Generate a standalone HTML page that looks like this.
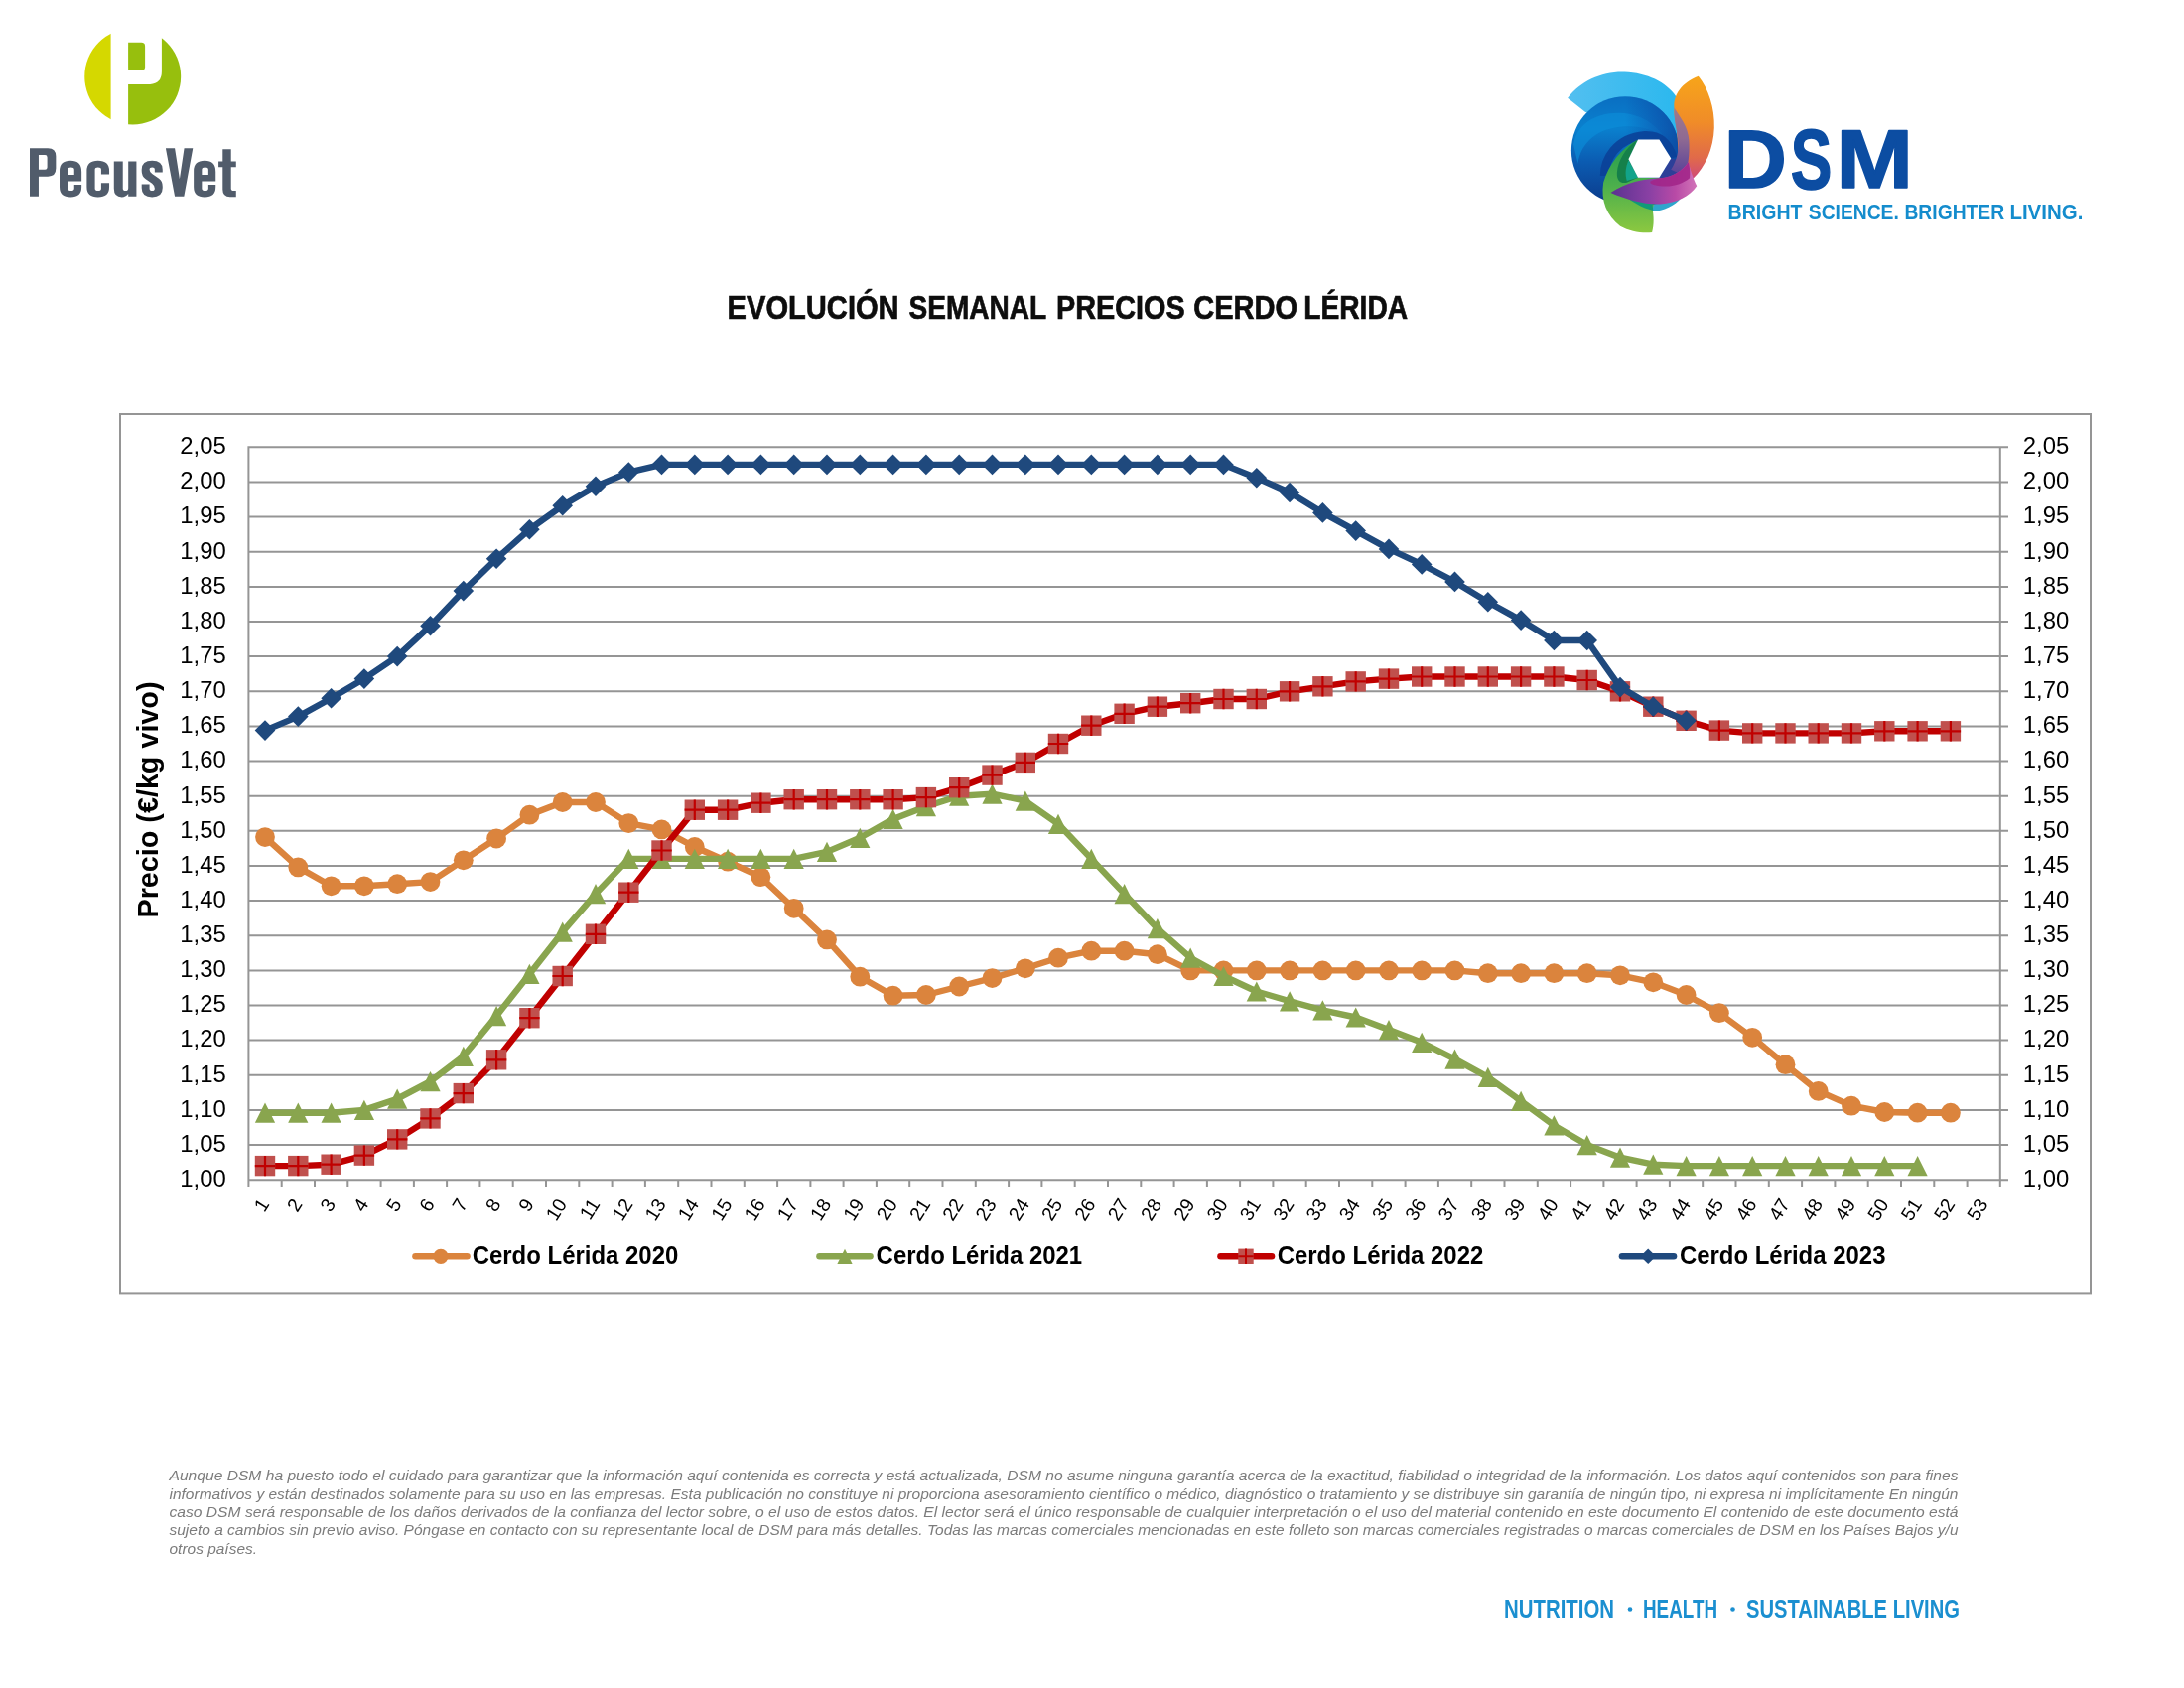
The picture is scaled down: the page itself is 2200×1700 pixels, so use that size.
<!DOCTYPE html>
<html><head><meta charset="utf-8"><title>Evolución semanal precios cerdo Lérida</title>
<style>html,body{margin:0;padding:0;background:#fff}body{width:2200px;height:1700px;overflow:hidden}svg{display:block;will-change:transform}text{font-family:"Liberation Sans",sans-serif}</style></head><body>
<svg width="2200" height="1700" viewBox="0 0 2200 1700">
<rect width="2200" height="1700" fill="#fff"/>
<g id="pecus">
<clipPath id="pc"><circle cx="133.7" cy="77.1" r="48.45"/></clipPath>
<g clip-path="url(#pc)">
<rect x="80" y="20" width="31.6" height="115" fill="#d5d800"/>
<path d="M129.1 84.9H151.2Q162.9 84.3 162.9 72V20H190V135H129.1Z" fill="#97bf0d"/>
<path d="M129.1 42.7H142.4Q146.1 42.7 146.1 46.4V67.2Q146.1 70.9 142.4 70.9H129.1Z" fill="#97bf0d"/>
</g>
<g transform="translate(20 135) scale(0.10531)" fill="#515c6b" fill-rule="evenodd">
<path d="M95 135H268Q345 135 345 212V328Q345 405 268 405H180V595H95ZM180 200V340H240Q262 340 262 318V222Q262 200 240 200Z"/>
<path d="M485 255Q590 255 590 360V452H458V520Q458 542 489 542Q520 542 520 520V485H590V505Q590 602 485 602Q380 602 380 505V352Q380 255 485 255ZM458 390V340Q458 318 489 318Q520 318 520 340V390Z"/>
<path d="M747 255Q855 255 855 352V385H778V340Q778 318 748 318Q718 318 718 340V520Q718 542 748 542Q778 542 778 520V468H855V505Q855 602 747 602Q640 602 640 505V352Q640 255 747 255Z"/>
<path d="M900 262H985V520Q985 542 1010 542Q1037 542 1037 515V262H1115V595H1037V570Q1012 602 975 602Q900 602 900 520Z"/>
<path d="M1265 255Q1365 255 1365 340V365H1290V340Q1290 318 1265 318Q1240 318 1240 340Q1240 362 1265 380L1330 425Q1365 450 1365 500V515Q1365 602 1265 602Q1165 602 1165 515V480H1240V520Q1240 542 1265 542Q1290 542 1290 520Q1290 492 1265 472L1200 427Q1165 402 1165 352V340Q1165 255 1265 255Z"/>
<path d="M1395 135H1482L1528 430L1572 135H1655L1570 595H1482Z"/>
<path transform="translate(1283 0)" d="M485 255Q590 255 590 360V452H458V520Q458 542 489 542Q520 542 520 520V485H590V505Q590 602 485 602Q380 602 380 505V352Q380 255 485 255ZM458 390V340Q458 318 489 318Q520 318 520 340V390Z"/>
<path d="M1940 145H2020V262H2068V315H2020V520Q2020 542 2045 542H2068V600H2010Q1940 600 1940 530V315H1900V262H1940Z"/>
</g>

</g>

<g id="dsm">
<defs>
<linearGradient id="gB" x1="0" y1="0" x2="0" y2="1"><stop offset="0" stop-color="#0a6fc2"/><stop offset=".3" stop-color="#0a80ce"/><stop offset=".6" stop-color="#0b5cb2"/><stop offset="1" stop-color="#0c3a8a"/></linearGradient>
<linearGradient id="gO" x1="0" y1="0" x2="0" y2="1"><stop offset="0" stop-color="#f7a51a"/><stop offset=".45" stop-color="#f08c28"/><stop offset=".8" stop-color="#e06a4a"/><stop offset="1" stop-color="#d04a78"/></linearGradient>
<linearGradient id="gG" x1="0" y1="0" x2="0" y2="1"><stop offset="0" stop-color="#1f9a50"/><stop offset=".5" stop-color="#4db04c"/><stop offset="1" stop-color="#8cc840"/></linearGradient>
<linearGradient id="gP" x1="0" y1="0" x2="1" y2="0"><stop offset="0" stop-color="#5a3290"/><stop offset=".45" stop-color="#8a40a4"/><stop offset=".75" stop-color="#b84aa6"/><stop offset="1" stop-color="#d274b8"/></linearGradient>
<linearGradient id="gL" x1="0" y1="0" x2="1" y2="0"><stop offset="0" stop-color="#52bff0"/><stop offset="1" stop-color="#2bb8ee"/></linearGradient>
<linearGradient id="gM" x1="0" y1="0" x2="0" y2="1"><stop offset="0" stop-color="#a07a8c"/><stop offset=".45" stop-color="#8f6a92"/><stop offset="1" stop-color="#56409a"/></linearGradient>
<linearGradient id="gBr" x1="0" y1="0" x2="1" y2="0"><stop offset=".5" stop-color="#0c4aa6" stop-opacity="0"/><stop offset=".8" stop-color="#0c4aa6" stop-opacity=".55"/><stop offset="1" stop-color="#0c459e" stop-opacity=".8"/></linearGradient>
</defs>
<g transform="translate(1560 60) scale(0.11255)">
<!-- light blue crescent -->
<path d="M170 345C290 190 480 105 680 112C880 120 1050 200 1140 330L1165 720L700 520L330 470Z" fill="url(#gL)"/>
<!-- cyan bottom sliver -->
<path d="M880 1230L1190 1230C1130 1310 1030 1352 925 1358Z" fill="#2ea6cc"/>
<!-- main blue disk -->
<circle cx="685" cy="812" r="482" fill="url(#gB)"/>
<path d="M222 760C250 580 420 470 640 478C830 486 960 580 1040 700C930 620 800 590 660 600C450 615 290 730 262 930Z" fill="#0b90da" opacity=".6"/>
<circle cx="685" cy="812" r="482" fill="url(#gBr)"/>
<path d="M500 1040C500 900 600 700 860 680C980 676 1070 740 1112 880" fill="none" stroke="#0a3f96" stroke-width="80" stroke-linecap="butt" opacity=".85"/>
<!-- green petal -->
<path d="M800 715C650 790 535 940 490 1100C465 1260 520 1400 640 1490C730 1540 840 1555 925 1545C945 1480 940 1400 930 1340L1000 1060L800 1055L715 890Z" fill="url(#gG)"/>
<path d="M790 722C690 790 620 900 612 1010C608 1080 640 1110 700 1100L800 1055L715 890Z" fill="#15804a"/>
<path d="M715 900L800 1055L700 1085C680 1020 690 960 715 900Z" fill="#12a38a"/>
<path d="M660 1200C740 1270 840 1330 935 1350L930 1300L1000 1280C860 1280 760 1250 660 1200Z" fill="#109a78"/>
<path d="M1095 885L1170 900L1210 1062L990 1058Z" fill="#2d3f98"/>
<!-- orange petal -->
<path d="M1340 148C1430 260 1488 430 1482 610C1476 800 1400 960 1295 1062L1170 1040C1165 900 1155 700 1142 600C1130 520 1120 470 1124 430C1112 320 1190 205 1340 148Z" fill="url(#gO)"/>
<path d="M1124 430C1180 520 1248 600 1256 720C1264 850 1248 960 1215 1040L1095 985C1150 900 1172 800 1155 700C1142 600 1118 520 1124 430Z" fill="url(#gM)"/>
<!-- purple/magenta petal -->
<path d="M555 1190C690 1100 850 1068 1000 1060C1100 1052 1200 995 1252 915C1268 990 1298 1075 1326 1130C1262 1222 1150 1282 1000 1292C850 1297 700 1252 555 1190Z" fill="url(#gP)"/>
<path d="M1000 1060C1100 1052 1200 995 1252 915C1262 960 1268 1010 1262 1060C1180 1130 1060 1150 940 1120C900 1105 880 1085 1000 1060Z" fill="#a2268a" opacity=".9"/>
<!-- hexagon hole -->
<path d="M800 715H990L1095 885L990 1055H800L715 890Z" fill="#fff"/>
</g>
<text fill="#0c4da2" transform="matrix(1.0407 0 0 0.9885 1736.63 188.83)" font-size="84" font-weight="bold" font-style="normal" stroke="#0c4da2" stroke-width="1.6" stroke-linejoin="round" >D</text><text fill="#0c4da2" transform="matrix(0.7429 0 0 1.0041 1803.71 189.53)" font-size="84" font-weight="bold" font-style="normal" stroke="#0c4da2" stroke-width="1.6" stroke-linejoin="round" >S</text><text fill="#0c4da2" transform="matrix(1.1078 0 0 0.9885 1849.40 188.83)" font-size="84" font-weight="bold" font-style="normal" stroke="#0c4da2" stroke-width="1.6" stroke-linejoin="round" >M</text>
<text transform="matrix(0.8698 0 0 1 1740.50 220.6)" font-size="22.5" font-weight="bold" fill="#148ccd">BRIGHT</text><text transform="matrix(0.8574 0 0 1 1821.77 220.6)" font-size="22.5" font-weight="bold" fill="#148ccd">SCIENCE.</text><text transform="matrix(0.8580 0 0 1 1918.41 220.6)" font-size="22.5" font-weight="bold" fill="#148ccd">BRIGHTER</text><text transform="matrix(0.9096 0 0 1 2024.44 220.6)" font-size="22.5" font-weight="bold" fill="#148ccd">LIVING.</text>
</g>

<text transform="matrix(0.8564 0 0 1 732.59 320.9)" font-size="34" font-weight="bold" fill="#0d0d0d" stroke="#0d0d0d" stroke-width="0.7">EVOLUCIÓN</text><text transform="matrix(0.8251 0 0 1 915.49 320.9)" font-size="34" font-weight="bold" fill="#0d0d0d" stroke="#0d0d0d" stroke-width="0.7">SEMANAL</text><text transform="matrix(0.8473 0 0 1 1064.01 320.9)" font-size="34" font-weight="bold" fill="#0d0d0d" stroke="#0d0d0d" stroke-width="0.7">PRECIOS</text><text transform="matrix(0.8548 0 0 1 1202.25 320.9)" font-size="34" font-weight="bold" fill="#0d0d0d" stroke="#0d0d0d" stroke-width="0.7">CERDO</text><text transform="matrix(0.8290 0 0 1 1313.24 320.9)" font-size="34" font-weight="bold" fill="#0d0d0d" stroke="#0d0d0d" stroke-width="0.7">LÉRIDA</text>
<rect x="121" y="417" width="1985" height="885.4" fill="#fff" stroke="#959595" stroke-width="2"/>
<path d="M250.4 450.3H2023M250.4 485.4H2023M250.4 520.6H2023M250.4 555.7H2023M250.4 590.9H2023M250.4 626H2023M250.4 661.1H2023M250.4 696.3H2023M250.4 731.4H2023M250.4 766.5H2023M250.4 801.7H2023M250.4 836.8H2023M250.4 872H2023M250.4 907.1H2023M250.4 942.2H2023M250.4 977.4H2023M250.4 1012.5H2023M250.4 1047.6H2023M250.4 1082.8H2023M250.4 1117.9H2023M250.4 1153.1H2023M250.4 1188.2H2023M250.4 1188.2V1195M283.7 1188.2V1195M317 1188.2V1195M350.3 1188.2V1195M383.6 1188.2V1195M416.9 1188.2V1195M450.1 1188.2V1195M483.4 1188.2V1195M516.7 1188.2V1195M550 1188.2V1195M583.3 1188.2V1195M616.6 1188.2V1195M649.9 1188.2V1195M683.2 1188.2V1195M716.5 1188.2V1195M749.8 1188.2V1195M783.1 1188.2V1195M816.4 1188.2V1195M849.6 1188.2V1195M882.9 1188.2V1195M916.2 1188.2V1195M949.5 1188.2V1195M982.8 1188.2V1195M1016.1 1188.2V1195M1049.4 1188.2V1195M1082.7 1188.2V1195M1116 1188.2V1195M1149.3 1188.2V1195M1182.6 1188.2V1195M1215.9 1188.2V1195M1249.1 1188.2V1195M1282.4 1188.2V1195M1315.7 1188.2V1195M1349 1188.2V1195M1382.3 1188.2V1195M1415.6 1188.2V1195M1448.9 1188.2V1195M1482.2 1188.2V1195M1515.5 1188.2V1195M1548.8 1188.2V1195M1582.1 1188.2V1195M1615.4 1188.2V1195M1648.6 1188.2V1195M1681.9 1188.2V1195M1715.2 1188.2V1195M1748.5 1188.2V1195M1781.8 1188.2V1195M1815.1 1188.2V1195M1848.4 1188.2V1195M1881.7 1188.2V1195M1915 1188.2V1195M1948.3 1188.2V1195M1981.6 1188.2V1195M2014.8 1188.2V1195M250.4 449.3V1189.2M2014.8 449.3V1189.2" fill="none" stroke="#959595" stroke-width="2"/>
<g font-size="24.4" fill="#000">
<text x="227.8" y="457.1" text-anchor="end" textLength="46.5" lengthAdjust="spacingAndGlyphs">2,05</text>
<text x="2037.8" y="457.1" textLength="46.5" lengthAdjust="spacingAndGlyphs">2,05</text>
<text x="227.8" y="492.2" text-anchor="end" textLength="46.5" lengthAdjust="spacingAndGlyphs">2,00</text>
<text x="2037.8" y="492.2" textLength="46.5" lengthAdjust="spacingAndGlyphs">2,00</text>
<text x="227.8" y="527.4" text-anchor="end" textLength="46.5" lengthAdjust="spacingAndGlyphs">1,95</text>
<text x="2037.8" y="527.4" textLength="46.5" lengthAdjust="spacingAndGlyphs">1,95</text>
<text x="227.8" y="562.5" text-anchor="end" textLength="46.5" lengthAdjust="spacingAndGlyphs">1,90</text>
<text x="2037.8" y="562.5" textLength="46.5" lengthAdjust="spacingAndGlyphs">1,90</text>
<text x="227.8" y="597.7" text-anchor="end" textLength="46.5" lengthAdjust="spacingAndGlyphs">1,85</text>
<text x="2037.8" y="597.7" textLength="46.5" lengthAdjust="spacingAndGlyphs">1,85</text>
<text x="227.8" y="632.8" text-anchor="end" textLength="46.5" lengthAdjust="spacingAndGlyphs">1,80</text>
<text x="2037.8" y="632.8" textLength="46.5" lengthAdjust="spacingAndGlyphs">1,80</text>
<text x="227.8" y="667.9" text-anchor="end" textLength="46.5" lengthAdjust="spacingAndGlyphs">1,75</text>
<text x="2037.8" y="667.9" textLength="46.5" lengthAdjust="spacingAndGlyphs">1,75</text>
<text x="227.8" y="703.1" text-anchor="end" textLength="46.5" lengthAdjust="spacingAndGlyphs">1,70</text>
<text x="2037.8" y="703.1" textLength="46.5" lengthAdjust="spacingAndGlyphs">1,70</text>
<text x="227.8" y="738.2" text-anchor="end" textLength="46.5" lengthAdjust="spacingAndGlyphs">1,65</text>
<text x="2037.8" y="738.2" textLength="46.5" lengthAdjust="spacingAndGlyphs">1,65</text>
<text x="227.8" y="773.3" text-anchor="end" textLength="46.5" lengthAdjust="spacingAndGlyphs">1,60</text>
<text x="2037.8" y="773.3" textLength="46.5" lengthAdjust="spacingAndGlyphs">1,60</text>
<text x="227.8" y="808.5" text-anchor="end" textLength="46.5" lengthAdjust="spacingAndGlyphs">1,55</text>
<text x="2037.8" y="808.5" textLength="46.5" lengthAdjust="spacingAndGlyphs">1,55</text>
<text x="227.8" y="843.6" text-anchor="end" textLength="46.5" lengthAdjust="spacingAndGlyphs">1,50</text>
<text x="2037.8" y="843.6" textLength="46.5" lengthAdjust="spacingAndGlyphs">1,50</text>
<text x="227.8" y="878.8" text-anchor="end" textLength="46.5" lengthAdjust="spacingAndGlyphs">1,45</text>
<text x="2037.8" y="878.8" textLength="46.5" lengthAdjust="spacingAndGlyphs">1,45</text>
<text x="227.8" y="913.9" text-anchor="end" textLength="46.5" lengthAdjust="spacingAndGlyphs">1,40</text>
<text x="2037.8" y="913.9" textLength="46.5" lengthAdjust="spacingAndGlyphs">1,40</text>
<text x="227.8" y="949" text-anchor="end" textLength="46.5" lengthAdjust="spacingAndGlyphs">1,35</text>
<text x="2037.8" y="949" textLength="46.5" lengthAdjust="spacingAndGlyphs">1,35</text>
<text x="227.8" y="984.2" text-anchor="end" textLength="46.5" lengthAdjust="spacingAndGlyphs">1,30</text>
<text x="2037.8" y="984.2" textLength="46.5" lengthAdjust="spacingAndGlyphs">1,30</text>
<text x="227.8" y="1019.3" text-anchor="end" textLength="46.5" lengthAdjust="spacingAndGlyphs">1,25</text>
<text x="2037.8" y="1019.3" textLength="46.5" lengthAdjust="spacingAndGlyphs">1,25</text>
<text x="227.8" y="1054.4" text-anchor="end" textLength="46.5" lengthAdjust="spacingAndGlyphs">1,20</text>
<text x="2037.8" y="1054.4" textLength="46.5" lengthAdjust="spacingAndGlyphs">1,20</text>
<text x="227.8" y="1089.6" text-anchor="end" textLength="46.5" lengthAdjust="spacingAndGlyphs">1,15</text>
<text x="2037.8" y="1089.6" textLength="46.5" lengthAdjust="spacingAndGlyphs">1,15</text>
<text x="227.8" y="1124.7" text-anchor="end" textLength="46.5" lengthAdjust="spacingAndGlyphs">1,10</text>
<text x="2037.8" y="1124.7" textLength="46.5" lengthAdjust="spacingAndGlyphs">1,10</text>
<text x="227.8" y="1159.9" text-anchor="end" textLength="46.5" lengthAdjust="spacingAndGlyphs">1,05</text>
<text x="2037.8" y="1159.9" textLength="46.5" lengthAdjust="spacingAndGlyphs">1,05</text>
<text x="227.8" y="1195" text-anchor="end" textLength="46.5" lengthAdjust="spacingAndGlyphs">1,00</text>
<text x="2037.8" y="1195" textLength="46.5" lengthAdjust="spacingAndGlyphs">1,00</text>
</g>
<g font-size="19.4" fill="#000" text-anchor="end">
<text transform="translate(272 1212.8) rotate(-58)">1</text>
<text transform="translate(305.3 1212.8) rotate(-58)">2</text>
<text transform="translate(338.6 1212.8) rotate(-58)">3</text>
<text transform="translate(371.9 1212.8) rotate(-58)">4</text>
<text transform="translate(405.2 1212.8) rotate(-58)">5</text>
<text transform="translate(438.5 1212.8) rotate(-58)">6</text>
<text transform="translate(471.8 1212.8) rotate(-58)">7</text>
<text transform="translate(505.1 1212.8) rotate(-58)">8</text>
<text transform="translate(538.4 1212.8) rotate(-58)">9</text>
<text transform="translate(571.7 1212.8) rotate(-58)">10</text>
<text transform="translate(605 1212.8) rotate(-58)">11</text>
<text transform="translate(638.3 1212.8) rotate(-58)">12</text>
<text transform="translate(671.5 1212.8) rotate(-58)">13</text>
<text transform="translate(704.8 1212.8) rotate(-58)">14</text>
<text transform="translate(738.1 1212.8) rotate(-58)">15</text>
<text transform="translate(771.4 1212.8) rotate(-58)">16</text>
<text transform="translate(804.7 1212.8) rotate(-58)">17</text>
<text transform="translate(838 1212.8) rotate(-58)">18</text>
<text transform="translate(871.3 1212.8) rotate(-58)">19</text>
<text transform="translate(904.6 1212.8) rotate(-58)">20</text>
<text transform="translate(937.9 1212.8) rotate(-58)">21</text>
<text transform="translate(971.2 1212.8) rotate(-58)">22</text>
<text transform="translate(1004.5 1212.8) rotate(-58)">23</text>
<text transform="translate(1037.8 1212.8) rotate(-58)">24</text>
<text transform="translate(1071 1212.8) rotate(-58)">25</text>
<text transform="translate(1104.3 1212.8) rotate(-58)">26</text>
<text transform="translate(1137.6 1212.8) rotate(-58)">27</text>
<text transform="translate(1170.9 1212.8) rotate(-58)">28</text>
<text transform="translate(1204.2 1212.8) rotate(-58)">29</text>
<text transform="translate(1237.5 1212.8) rotate(-58)">30</text>
<text transform="translate(1270.8 1212.8) rotate(-58)">31</text>
<text transform="translate(1304.1 1212.8) rotate(-58)">32</text>
<text transform="translate(1337.4 1212.8) rotate(-58)">33</text>
<text transform="translate(1370.7 1212.8) rotate(-58)">34</text>
<text transform="translate(1404 1212.8) rotate(-58)">35</text>
<text transform="translate(1437.2 1212.8) rotate(-58)">36</text>
<text transform="translate(1470.5 1212.8) rotate(-58)">37</text>
<text transform="translate(1503.8 1212.8) rotate(-58)">38</text>
<text transform="translate(1537.1 1212.8) rotate(-58)">39</text>
<text transform="translate(1570.4 1212.8) rotate(-58)">40</text>
<text transform="translate(1603.7 1212.8) rotate(-58)">41</text>
<text transform="translate(1637 1212.8) rotate(-58)">42</text>
<text transform="translate(1670.3 1212.8) rotate(-58)">43</text>
<text transform="translate(1703.6 1212.8) rotate(-58)">44</text>
<text transform="translate(1736.9 1212.8) rotate(-58)">45</text>
<text transform="translate(1770.2 1212.8) rotate(-58)">46</text>
<text transform="translate(1803.5 1212.8) rotate(-58)">47</text>
<text transform="translate(1836.7 1212.8) rotate(-58)">48</text>
<text transform="translate(1870 1212.8) rotate(-58)">49</text>
<text transform="translate(1903.3 1212.8) rotate(-58)">50</text>
<text transform="translate(1936.6 1212.8) rotate(-58)">51</text>
<text transform="translate(1969.9 1212.8) rotate(-58)">52</text>
<text transform="translate(2003.2 1212.8) rotate(-58)">53</text>
</g>
<text transform="translate(159.3 924.5) rotate(-90)" font-size="29" font-weight="bold" fill="#000" textLength="238" lengthAdjust="spacingAndGlyphs">Precio (€/kg vivo)</text>
<g fill="#db843d"><polyline points="267,843.1 300.3,873.4 333.6,892.3 366.9,892.3 400.2,890.2 433.5,888.1 466.8,866.3 500.1,844.5 533.4,820.7 566.7,808 600,808 633.3,829.1 666.5,835.4 699.8,853 733.1,867.7 766.4,883.2 799.7,914.8 833,946.4 866.3,983.7 899.6,1002.7 932.9,1002 966.2,993.5 999.5,985.1 1032.8,975.3 1066,964.7 1099.3,957.7 1132.6,957.7 1165.9,961.2 1199.2,977.4 1232.5,977.4 1265.8,977.4 1299.1,977.4 1332.4,977.4 1365.7,977.4 1399,977.4 1432.2,977.4 1465.5,977.4 1498.8,980.2 1532.1,980.2 1565.4,980.2 1598.7,980.2 1632,982.3 1665.3,989.3 1698.6,1002 1731.9,1020.2 1765.2,1044.8 1798.5,1072.2 1831.7,1098.9 1865,1113.7 1898.3,1120 1931.6,1120.7 1964.9,1120.7" fill="none" stroke="#db843d" stroke-width="6.4" stroke-linejoin="round"/>
<circle cx="267" cy="843.1" r="9.9"/><circle cx="300.3" cy="873.4" r="9.9"/><circle cx="333.6" cy="892.3" r="9.9"/><circle cx="366.9" cy="892.3" r="9.9"/><circle cx="400.2" cy="890.2" r="9.9"/><circle cx="433.5" cy="888.1" r="9.9"/><circle cx="466.8" cy="866.3" r="9.9"/><circle cx="500.1" cy="844.5" r="9.9"/><circle cx="533.4" cy="820.7" r="9.9"/><circle cx="566.7" cy="808" r="9.9"/><circle cx="600" cy="808" r="9.9"/><circle cx="633.3" cy="829.1" r="9.9"/><circle cx="666.5" cy="835.4" r="9.9"/><circle cx="699.8" cy="853" r="9.9"/><circle cx="733.1" cy="867.7" r="9.9"/><circle cx="766.4" cy="883.2" r="9.9"/><circle cx="799.7" cy="914.8" r="9.9"/><circle cx="833" cy="946.4" r="9.9"/><circle cx="866.3" cy="983.7" r="9.9"/><circle cx="899.6" cy="1002.7" r="9.9"/><circle cx="932.9" cy="1002" r="9.9"/><circle cx="966.2" cy="993.5" r="9.9"/><circle cx="999.5" cy="985.1" r="9.9"/><circle cx="1032.8" cy="975.3" r="9.9"/><circle cx="1066" cy="964.7" r="9.9"/><circle cx="1099.3" cy="957.7" r="9.9"/><circle cx="1132.6" cy="957.7" r="9.9"/><circle cx="1165.9" cy="961.2" r="9.9"/><circle cx="1199.2" cy="977.4" r="9.9"/><circle cx="1232.5" cy="977.4" r="9.9"/><circle cx="1265.8" cy="977.4" r="9.9"/><circle cx="1299.1" cy="977.4" r="9.9"/><circle cx="1332.4" cy="977.4" r="9.9"/><circle cx="1365.7" cy="977.4" r="9.9"/><circle cx="1399" cy="977.4" r="9.9"/><circle cx="1432.2" cy="977.4" r="9.9"/><circle cx="1465.5" cy="977.4" r="9.9"/><circle cx="1498.8" cy="980.2" r="9.9"/><circle cx="1532.1" cy="980.2" r="9.9"/><circle cx="1565.4" cy="980.2" r="9.9"/><circle cx="1598.7" cy="980.2" r="9.9"/><circle cx="1632" cy="982.3" r="9.9"/><circle cx="1665.3" cy="989.3" r="9.9"/><circle cx="1698.6" cy="1002" r="9.9"/><circle cx="1731.9" cy="1020.2" r="9.9"/><circle cx="1765.2" cy="1044.8" r="9.9"/><circle cx="1798.5" cy="1072.2" r="9.9"/><circle cx="1831.7" cy="1098.9" r="9.9"/><circle cx="1865" cy="1113.7" r="9.9"/><circle cx="1898.3" cy="1120" r="9.9"/><circle cx="1931.6" cy="1120.7" r="9.9"/><circle cx="1964.9" cy="1120.7" r="9.9"/>
</g>
<g fill="#89a54e"><polyline points="267,1120.7 300.3,1120.7 333.6,1120.7 366.9,1117.9 400.2,1106.7 433.5,1089.1 466.8,1063.8 500.1,1023.1 533.4,980.9 566.7,938.7 600,900.1 633.3,864.9 666.5,864.9 699.8,864.9 733.1,864.9 766.4,864.9 799.7,864.9 833,857.9 866.3,843.8 899.6,824.9 932.9,812.2 966.2,801.7 999.5,799.6 1032.8,806.6 1066,829.8 1099.3,864.9 1132.6,900.1 1165.9,935.2 1199.2,964.7 1232.5,983 1265.8,998.5 1299.1,1008.3 1332.4,1017.4 1365.7,1024.5 1399,1037.1 1432.2,1049.8 1465.5,1066.6 1498.8,1084.9 1532.1,1108.8 1565.4,1133.4 1598.7,1153.1 1632,1165.7 1665.3,1172.7 1698.6,1174.1 1731.9,1174.1 1765.2,1174.1 1798.5,1174.1 1831.7,1174.1 1865,1174.1 1898.3,1174.1 1931.6,1174.1" fill="none" stroke="#89a54e" stroke-width="6.4" stroke-linejoin="round"/>
<path d="M267 1110.6L277.1 1130.8L256.9 1130.8Z"/><path d="M300.3 1110.6L310.4 1130.8L290.2 1130.8Z"/><path d="M333.6 1110.6L343.7 1130.8L323.5 1130.8Z"/><path d="M366.9 1107.8L377 1128L356.8 1128Z"/><path d="M400.2 1096.6L410.3 1116.8L390.1 1116.8Z"/><path d="M433.5 1079L443.6 1099.2L423.4 1099.2Z"/><path d="M466.8 1053.7L476.9 1073.9L456.7 1073.9Z"/><path d="M500.1 1013L510.2 1033.2L490 1033.2Z"/><path d="M533.4 970.8L543.5 991L523.3 991Z"/><path d="M566.7 928.6L576.8 948.8L556.6 948.8Z"/><path d="M600 890L610.1 910.2L589.9 910.2Z"/><path d="M633.3 854.8L643.4 875L623.2 875Z"/><path d="M666.5 854.8L676.6 875L656.4 875Z"/><path d="M699.8 854.8L709.9 875L689.7 875Z"/><path d="M733.1 854.8L743.2 875L723 875Z"/><path d="M766.4 854.8L776.5 875L756.3 875Z"/><path d="M799.7 854.8L809.8 875L789.6 875Z"/><path d="M833 847.8L843.1 868L822.9 868Z"/><path d="M866.3 833.7L876.4 853.9L856.2 853.9Z"/><path d="M899.6 814.8L909.7 835L889.5 835Z"/><path d="M932.9 802.1L943 822.3L922.8 822.3Z"/><path d="M966.2 791.6L976.3 811.8L956.1 811.8Z"/><path d="M999.5 789.5L1009.6 809.7L989.4 809.7Z"/><path d="M1032.8 796.5L1042.9 816.7L1022.7 816.7Z"/><path d="M1066 819.7L1076.1 839.9L1055.9 839.9Z"/><path d="M1099.3 854.8L1109.4 875L1089.2 875Z"/><path d="M1132.6 890L1142.7 910.2L1122.5 910.2Z"/><path d="M1165.9 925.1L1176 945.3L1155.8 945.3Z"/><path d="M1199.2 954.6L1209.3 974.8L1189.1 974.8Z"/><path d="M1232.5 972.9L1242.6 993.1L1222.4 993.1Z"/><path d="M1265.8 988.4L1275.9 1008.6L1255.7 1008.6Z"/><path d="M1299.1 998.2L1309.2 1018.4L1289 1018.4Z"/><path d="M1332.4 1007.3L1342.5 1027.5L1322.3 1027.5Z"/><path d="M1365.7 1014.4L1375.8 1034.6L1355.6 1034.6Z"/><path d="M1399 1027L1409.1 1047.2L1388.9 1047.2Z"/><path d="M1432.2 1039.7L1442.3 1059.9L1422.1 1059.9Z"/><path d="M1465.5 1056.5L1475.6 1076.7L1455.4 1076.7Z"/><path d="M1498.8 1074.8L1508.9 1095L1488.7 1095Z"/><path d="M1532.1 1098.7L1542.2 1118.9L1522 1118.9Z"/><path d="M1565.4 1123.3L1575.5 1143.5L1555.3 1143.5Z"/><path d="M1598.7 1143L1608.8 1163.2L1588.6 1163.2Z"/><path d="M1632 1155.6L1642.1 1175.8L1621.9 1175.8Z"/><path d="M1665.3 1162.6L1675.4 1182.8L1655.2 1182.8Z"/><path d="M1698.6 1164L1708.7 1184.2L1688.5 1184.2Z"/><path d="M1731.9 1164L1742 1184.2L1721.8 1184.2Z"/><path d="M1765.2 1164L1775.3 1184.2L1755.1 1184.2Z"/><path d="M1798.5 1164L1808.6 1184.2L1788.4 1184.2Z"/><path d="M1831.7 1164L1841.8 1184.2L1821.6 1184.2Z"/><path d="M1865 1164L1875.1 1184.2L1854.9 1184.2Z"/><path d="M1898.3 1164L1908.4 1184.2L1888.2 1184.2Z"/><path d="M1931.6 1164L1941.7 1184.2L1921.5 1184.2Z"/>
</g>
<g fill="#c0504d"><polyline points="267,1174.1 300.3,1174.1 333.6,1172.7 366.9,1163.6 400.2,1147.4 433.5,1126.4 466.8,1101.1 500.1,1067.3 533.4,1025.2 566.7,983 600,940.8 633.3,898.7 666.5,856.5 699.8,815.7 733.1,815.7 766.4,808.7 799.7,805.2 833,805.2 866.3,805.2 899.6,805.2 932.9,803.1 966.2,793.2 999.5,780.6 1032.8,767.9 1066,749 1099.3,730.7 1132.6,718.8 1165.9,711.7 1199.2,708.2 1232.5,704 1265.8,704 1299.1,696.3 1332.4,691.3 1365.7,686.4 1399,683.6 1432.2,681.5 1465.5,681.5 1498.8,681.5 1532.1,681.5 1565.4,681.5 1598.7,685 1632,696.3 1665.3,711.7 1698.6,725.8 1731.9,735.6 1765.2,738.4 1798.5,738.4 1831.7,738.4 1865,738.4 1898.3,736.3 1931.6,736.3 1964.9,736.3" fill="none" stroke="#c00000" stroke-width="6.4" stroke-linejoin="round"/>
<rect x="256.8" y="1163.9" width="20.4" height="20.4"/><rect x="290.1" y="1163.9" width="20.4" height="20.4"/><rect x="323.4" y="1162.5" width="20.4" height="20.4"/><rect x="356.7" y="1153.4" width="20.4" height="20.4"/><rect x="390" y="1137.2" width="20.4" height="20.4"/><rect x="423.3" y="1116.2" width="20.4" height="20.4"/><rect x="456.6" y="1090.9" width="20.4" height="20.4"/><rect x="489.9" y="1057.1" width="20.4" height="20.4"/><rect x="523.2" y="1015" width="20.4" height="20.4"/><rect x="556.5" y="972.8" width="20.4" height="20.4"/><rect x="589.8" y="930.6" width="20.4" height="20.4"/><rect x="623.1" y="888.5" width="20.4" height="20.4"/><rect x="656.3" y="846.3" width="20.4" height="20.4"/><rect x="689.6" y="805.5" width="20.4" height="20.4"/><rect x="722.9" y="805.5" width="20.4" height="20.4"/><rect x="756.2" y="798.5" width="20.4" height="20.4"/><rect x="789.5" y="795" width="20.4" height="20.4"/><rect x="822.8" y="795" width="20.4" height="20.4"/><rect x="856.1" y="795" width="20.4" height="20.4"/><rect x="889.4" y="795" width="20.4" height="20.4"/><rect x="922.7" y="792.9" width="20.4" height="20.4"/><rect x="956" y="783" width="20.4" height="20.4"/><rect x="989.3" y="770.4" width="20.4" height="20.4"/><rect x="1022.6" y="757.7" width="20.4" height="20.4"/><rect x="1055.8" y="738.8" width="20.4" height="20.4"/><rect x="1089.1" y="720.5" width="20.4" height="20.4"/><rect x="1122.4" y="708.6" width="20.4" height="20.4"/><rect x="1155.7" y="701.5" width="20.4" height="20.4"/><rect x="1189" y="698" width="20.4" height="20.4"/><rect x="1222.3" y="693.8" width="20.4" height="20.4"/><rect x="1255.6" y="693.8" width="20.4" height="20.4"/><rect x="1288.9" y="686.1" width="20.4" height="20.4"/><rect x="1322.2" y="681.1" width="20.4" height="20.4"/><rect x="1355.5" y="676.2" width="20.4" height="20.4"/><rect x="1388.8" y="673.4" width="20.4" height="20.4"/><rect x="1422" y="671.3" width="20.4" height="20.4"/><rect x="1455.3" y="671.3" width="20.4" height="20.4"/><rect x="1488.6" y="671.3" width="20.4" height="20.4"/><rect x="1521.9" y="671.3" width="20.4" height="20.4"/><rect x="1555.2" y="671.3" width="20.4" height="20.4"/><rect x="1588.5" y="674.8" width="20.4" height="20.4"/><rect x="1621.8" y="686.1" width="20.4" height="20.4"/><rect x="1655.1" y="701.5" width="20.4" height="20.4"/><rect x="1688.4" y="715.6" width="20.4" height="20.4"/><rect x="1721.7" y="725.4" width="20.4" height="20.4"/><rect x="1755" y="728.2" width="20.4" height="20.4"/><rect x="1788.3" y="728.2" width="20.4" height="20.4"/><rect x="1821.5" y="728.2" width="20.4" height="20.4"/><rect x="1854.8" y="728.2" width="20.4" height="20.4"/><rect x="1888.1" y="726.1" width="20.4" height="20.4"/><rect x="1921.4" y="726.1" width="20.4" height="20.4"/><rect x="1954.7" y="726.1" width="20.4" height="20.4"/>
<path d="M256.8 1174.1H277.2M267 1163.9V1184.3M290.1 1174.1H310.5M300.3 1163.9V1184.3M323.4 1172.7H343.8M333.6 1162.5V1182.9M356.7 1163.6H377.1M366.9 1153.4V1173.8M390 1147.4H410.4M400.2 1137.2V1157.6M423.3 1126.4H443.7M433.5 1116.2V1136.6M456.6 1101.1H477M466.8 1090.9V1111.3M489.9 1067.3H510.3M500.1 1057.1V1077.5M523.2 1025.2H543.6M533.4 1015V1035.4M556.5 983H576.9M566.7 972.8V993.2M589.8 940.8H610.2M600 930.6V951M623.1 898.7H643.5M633.3 888.5V908.9M656.3 856.5H676.7M666.5 846.3V866.7M689.6 815.7H710M699.8 805.5V825.9M722.9 815.7H743.3M733.1 805.5V825.9M756.2 808.7H776.6M766.4 798.5V818.9M789.5 805.2H809.9M799.7 795V815.4M822.8 805.2H843.2M833 795V815.4M856.1 805.2H876.5M866.3 795V815.4M889.4 805.2H909.8M899.6 795V815.4M922.7 803.1H943.1M932.9 792.9V813.3M956 793.2H976.4M966.2 783V803.4M989.3 780.6H1009.7M999.5 770.4V790.8M1022.6 767.9H1043M1032.8 757.7V778.1M1055.8 749H1076.2M1066 738.8V759.2M1089.1 730.7H1109.5M1099.3 720.5V740.9M1122.4 718.8H1142.8M1132.6 708.6V729M1155.7 711.7H1176.1M1165.9 701.5V721.9M1189 708.2H1209.4M1199.2 698V718.4M1222.3 704H1242.7M1232.5 693.8V714.2M1255.6 704H1276M1265.8 693.8V714.2M1288.9 696.3H1309.3M1299.1 686.1V706.5M1322.2 691.3H1342.6M1332.4 681.1V701.5M1355.5 686.4H1375.9M1365.7 676.2V696.6M1388.8 683.6H1409.2M1399 673.4V693.8M1422 681.5H1442.4M1432.2 671.3V691.7M1455.3 681.5H1475.7M1465.5 671.3V691.7M1488.6 681.5H1509M1498.8 671.3V691.7M1521.9 681.5H1542.3M1532.1 671.3V691.7M1555.2 681.5H1575.6M1565.4 671.3V691.7M1588.5 685H1608.9M1598.7 674.8V695.2M1621.8 696.3H1642.2M1632 686.1V706.5M1655.1 711.7H1675.5M1665.3 701.5V721.9M1688.4 725.8H1708.8M1698.6 715.6V736M1721.7 735.6H1742.1M1731.9 725.4V745.8M1755 738.4H1775.4M1765.2 728.2V748.6M1788.3 738.4H1808.7M1798.5 728.2V748.6M1821.5 738.4H1841.9M1831.7 728.2V748.6M1854.8 738.4H1875.2M1865 728.2V748.6M1888.1 736.3H1908.5M1898.3 726.1V746.5M1921.4 736.3H1941.8M1931.6 726.1V746.5M1954.7 736.3H1975.1M1964.9 726.1V746.5" fill="none" stroke="#c00000" stroke-width="2.2"/>
</g>
<g fill="#1f497d"><polyline points="267,735.6 300.3,721.6 333.6,703.3 366.9,683.6 400.2,661.1 433.5,630.2 466.8,595.1 500.1,562.7 533.4,533.2 566.7,509.3 600,489.7 633.3,475.6 666.5,467.9 699.8,467.9 733.1,467.9 766.4,467.9 799.7,467.9 833,467.9 866.3,467.9 899.6,467.9 932.9,467.9 966.2,467.9 999.5,467.9 1032.8,467.9 1066,467.9 1099.3,467.9 1132.6,467.9 1165.9,467.9 1199.2,467.9 1232.5,467.9 1265.8,481.2 1299.1,496 1332.4,516.4 1365.7,534.6 1399,552.9 1432.2,568.4 1465.5,585.9 1498.8,606.3 1532.1,624.6 1565.4,645 1598.7,645 1632,692.1 1665.3,711.7 1698.6,725.8" fill="none" stroke="#1f497d" stroke-width="6.4" stroke-linejoin="round"/>
<path d="M267 725.3L277.3 735.6L267 745.9L256.7 735.6Z"/><path d="M300.3 711.3L310.6 721.6L300.3 731.9L290 721.6Z"/><path d="M333.6 693L343.9 703.3L333.6 713.6L323.3 703.3Z"/><path d="M366.9 673.3L377.2 683.6L366.9 693.9L356.6 683.6Z"/><path d="M400.2 650.8L410.5 661.1L400.2 671.4L389.9 661.1Z"/><path d="M433.5 619.9L443.8 630.2L433.5 640.5L423.2 630.2Z"/><path d="M466.8 584.8L477.1 595.1L466.8 605.4L456.5 595.1Z"/><path d="M500.1 552.4L510.4 562.7L500.1 573L489.8 562.7Z"/><path d="M533.4 522.9L543.7 533.2L533.4 543.5L523.1 533.2Z"/><path d="M566.7 499L577 509.3L566.7 519.6L556.4 509.3Z"/><path d="M600 479.4L610.3 489.7L600 500L589.7 489.7Z"/><path d="M633.3 465.3L643.6 475.6L633.3 485.9L623 475.6Z"/><path d="M666.5 457.6L676.8 467.9L666.5 478.2L656.2 467.9Z"/><path d="M699.8 457.6L710.1 467.9L699.8 478.2L689.5 467.9Z"/><path d="M733.1 457.6L743.4 467.9L733.1 478.2L722.8 467.9Z"/><path d="M766.4 457.6L776.7 467.9L766.4 478.2L756.1 467.9Z"/><path d="M799.7 457.6L810 467.9L799.7 478.2L789.4 467.9Z"/><path d="M833 457.6L843.3 467.9L833 478.2L822.7 467.9Z"/><path d="M866.3 457.6L876.6 467.9L866.3 478.2L856 467.9Z"/><path d="M899.6 457.6L909.9 467.9L899.6 478.2L889.3 467.9Z"/><path d="M932.9 457.6L943.2 467.9L932.9 478.2L922.6 467.9Z"/><path d="M966.2 457.6L976.5 467.9L966.2 478.2L955.9 467.9Z"/><path d="M999.5 457.6L1009.8 467.9L999.5 478.2L989.2 467.9Z"/><path d="M1032.8 457.6L1043.1 467.9L1032.8 478.2L1022.5 467.9Z"/><path d="M1066 457.6L1076.3 467.9L1066 478.2L1055.7 467.9Z"/><path d="M1099.3 457.6L1109.6 467.9L1099.3 478.2L1089 467.9Z"/><path d="M1132.6 457.6L1142.9 467.9L1132.6 478.2L1122.3 467.9Z"/><path d="M1165.9 457.6L1176.2 467.9L1165.9 478.2L1155.6 467.9Z"/><path d="M1199.2 457.6L1209.5 467.9L1199.2 478.2L1188.9 467.9Z"/><path d="M1232.5 457.6L1242.8 467.9L1232.5 478.2L1222.2 467.9Z"/><path d="M1265.8 470.9L1276.1 481.2L1265.8 491.5L1255.5 481.2Z"/><path d="M1299.1 485.7L1309.4 496L1299.1 506.3L1288.8 496Z"/><path d="M1332.4 506.1L1342.7 516.4L1332.4 526.7L1322.1 516.4Z"/><path d="M1365.7 524.3L1376 534.6L1365.7 544.9L1355.4 534.6Z"/><path d="M1399 542.6L1409.3 552.9L1399 563.2L1388.7 552.9Z"/><path d="M1432.2 558.1L1442.5 568.4L1432.2 578.7L1421.9 568.4Z"/><path d="M1465.5 575.6L1475.8 585.9L1465.5 596.2L1455.2 585.9Z"/><path d="M1498.8 596L1509.1 606.3L1498.8 616.6L1488.5 606.3Z"/><path d="M1532.1 614.3L1542.4 624.6L1532.1 634.9L1521.8 624.6Z"/><path d="M1565.4 634.7L1575.7 645L1565.4 655.3L1555.1 645Z"/><path d="M1598.7 634.7L1609 645L1598.7 655.3L1588.4 645Z"/><path d="M1632 681.8L1642.3 692.1L1632 702.4L1621.7 692.1Z"/><path d="M1665.3 701.4L1675.6 711.7L1665.3 722L1655 711.7Z"/><path d="M1698.6 715.5L1708.9 725.8L1698.6 736.1L1688.3 725.8Z"/>
</g>
<g stroke-linecap="round" stroke-width="6.6" fill="none">
<path d="M418.5 1265.3H470.5" stroke="#db843d"/>
<path d="M825.5 1265.3H876.5" stroke="#89a54e"/>
<path d="M1229.5 1265.3H1281" stroke="#c00000"/>
<path d="M1634 1265.3H1686" stroke="#1f497d"/>
</g>
<g fill="#db843d"><circle cx="444" cy="1265.3" r="7.6"/></g>
<g fill="#89a54e"><path d="M851 1257.7L858.6 1272.9L843.4 1272.9Z"/></g>
<g fill="#c0504d"><rect x="1247.3" y="1257.6" width="15.4" height="15.4"/><path d="M1247.3 1265.3H1262.7M1255 1257.6V1273" stroke="#c00000" stroke-width="2" fill="none"/></g>
<g fill="#1f497d"><path d="M1660.2 1257.5L1668 1265.3L1660.2 1273.1L1652.4 1265.3Z"/></g>
<g font-size="25.5" font-weight="bold" fill="#000">
<text x="475.7" y="1272.9" textLength="207.6" lengthAdjust="spacingAndGlyphs">Cerdo Lérida 2020</text>
<text x="882.6" y="1272.9" textLength="207.6" lengthAdjust="spacingAndGlyphs">Cerdo Lérida 2021</text>
<text x="1286.7" y="1272.9" textLength="207.6" lengthAdjust="spacingAndGlyphs">Cerdo Lérida 2022</text>
<text x="1691.9" y="1272.9" textLength="207.6" lengthAdjust="spacingAndGlyphs">Cerdo Lérida 2023</text>
</g>
<g font-size="15.2" font-style="italic" fill="#7c7c7c">
<text x="170.5" y="1491.3" textLength="1802" lengthAdjust="spacingAndGlyphs">Aunque DSM ha puesto todo el cuidado para garantizar que la información aquí contenida es correcta y está actualizada, DSM no asume ninguna garantía acerca de la exactitud, fiabilidad o integridad de la información. Los datos aquí contenidos son para fines</text>
<text x="170.5" y="1509.6" textLength="1802" lengthAdjust="spacingAndGlyphs">informativos y están destinados solamente para su uso en las empresas. Esta publicación no constituye ni proporciona asesoramiento científico o médico, diagnóstico o tratamiento y se distribuye sin garantía de ningún tipo, ni expresa ni implícitamente En ningún</text>
<text x="170.5" y="1528" textLength="1802" lengthAdjust="spacingAndGlyphs">caso DSM será responsable de los daños derivados de la confianza del lector sobre, o el uso de estos datos. El lector será el único responsable de cualquier interpretación o el uso del material contenido en este documento El contenido de este documento está</text>
<text x="170.5" y="1546.3" textLength="1802" lengthAdjust="spacingAndGlyphs">sujeto a cambios sin previo aviso. Póngase en contacto con su representante local de DSM para más detalles. Todas las marcas comerciales mencionadas en este folleto son marcas comerciales registradas o marcas comerciales de DSM en los Países Bajos y/u</text>
<text x="170.5" y="1564.7" textLength="88.5" lengthAdjust="spacingAndGlyphs">otros países.</text>
</g>
<g font-size="25.2" font-weight="bold" fill="#1b8fd0">
<text x="1515" y="1629" textLength="111" lengthAdjust="spacingAndGlyphs">NUTRITION</text>
<text x="1655" y="1629" textLength="75" lengthAdjust="spacingAndGlyphs">HEALTH</text>
<text x="1759" y="1629" textLength="215" lengthAdjust="spacingAndGlyphs">SUSTAINABLE LIVING</text>
<circle cx="1642" cy="1620.5" r="2.3"/><circle cx="1745.5" cy="1620.5" r="2.3"/>
</g>
</svg></body></html>
